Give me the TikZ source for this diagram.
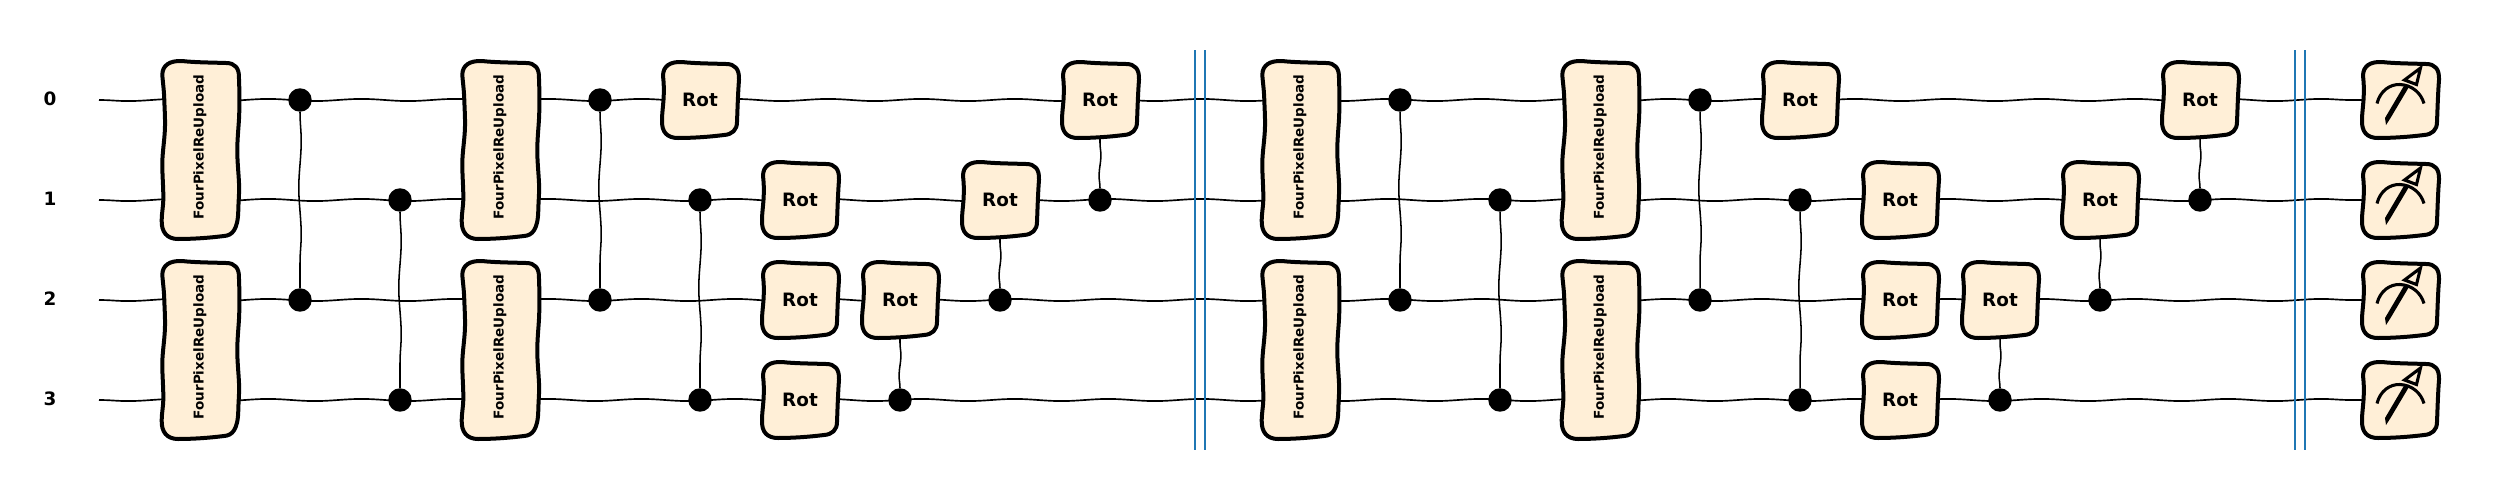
\documentclass[tikz,border=0pt]{standalone}
\usepackage{fontspec}
\setmainfont{DejaVu Sans}
\usetikzlibrary{backgrounds,decorations.pathmorphing}

\definecolor{gatefill}{RGB}{255,239,215}
\definecolor{barrierblue}{RGB}{31,119,180}

\tikzset{
  gateedge/.style={draw=black,fill=gatefill,line width=3pt,line join=round},
  gatetext/.style={inner sep=0pt,font=\fontsize{13.8pt}{16pt}\selectfont\bfseries},
  uploadtext/.style={inner sep=0pt,rotate=90,xshift=2.2pt,minimum width=132pt,minimum height=57pt,font=\fontsize{10.15pt}{12pt}\selectfont\bfseries},
  wirelabel/.style={inner sep=0pt,font=\fontsize{13.8pt}{16pt}\selectfont\bfseries},
  wire/.style={line width=1.25pt,decorate,decoration={snake,mirror,segment length=70pt,amplitude=0.8pt}},
  ctrlline/.style={line width=1.15pt,decorate,decoration={snake,segment length=70pt,amplitude=0.9pt}},
  ctrlshort/.style={line width=1.15pt,decorate,decoration={snake,segment length=30pt,amplitude=0.7pt}},
  ctrldot/.style={circle,fill=black,inner sep=0pt,minimum size=17.6pt},
  barrier/.style={draw=barrierblue,line width=1.5pt},
}

%gate outlines are centred on the given point
\newcommand{\rotgate}[3]{%
  \draw [gateedge,shift={(#2,#3)}] (-37,-24) .. controls (-36,-16) and (-36,-8) .. (-36.5,0) .. controls (-37,7) and (-38,14) .. (-38,20) .. controls (-38.5,32) and (-33,38) .. (-22,38) .. controls (-8,38) and (8,37) .. (24,35) .. controls (32,34.5) and (37,30) .. (37,22) .. controls (37.5,10) and (38,-8) .. (39,-20) .. controls (39.5,-31) and (35,-36) .. (26,-36) .. controls (12,-36.5) and (-5,-36.5) .. (-18,-38) .. controls (-30,-38.5) and (-37,-34) .. (-37,-24) -- cycle ;
  \node [gatetext,minimum width=57pt,minimum height=57pt] (#1) at (#2,#3) {Rot};
}
\newcommand{\uploadgate}[3]{%
  \draw [gateedge,shift={(#2,#3)}] (-37.7,-75) .. controls (-37,-66) and (-36,-60) .. (-35.7,-50) .. controls (-35.3,-38) and (-34.5,-28) .. (-35.3,-17) .. controls (-36,-6) and (-38,6) .. (-37.7,17) .. controls (-37.5,28) and (-36.5,40) .. (-36.7,50) .. controls (-37,58) and (-38.3,64) .. (-38.3,70) .. controls (-38.8,82) and (-33,89) .. (-22,89) .. controls (-8,89) and (8,88) .. (24,86) .. controls (32,85.5) and (38,80) .. (38.3,60) .. controls (38.5,50) and (39.5,42) .. (39,33) .. controls (38.5,22) and (37.3,12) .. (37.3,0) .. controls (37.3,-14) and (39.3,-28) .. (39.3,-40) .. controls (39.3,-52) and (39.5,-60) .. (39,-71) .. controls (39.5,-82) and (35,-87) .. (26,-87) .. controls (12,-87.5) and (-5,-87.5) .. (-18,-89) .. controls (-30,-89.5) and (-37.7,-85) .. (-37.7,-75) -- cycle ;
  \node [uploadtext] (#1) at (#2,#3) {FourPixelReUpload};
}
\newcommand{\metergate}[3]{%
  \draw [gateedge,shift={(#2,#3)}] (-37,-24) .. controls (-36,-16) and (-36,-8) .. (-36.5,0) .. controls (-37,7) and (-38,14) .. (-38,20) .. controls (-38.5,32) and (-33,38) .. (-22,38) .. controls (-8,38) and (8,37) .. (24,35) .. controls (32,34.5) and (37,30) .. (37,22) .. controls (37.5,10) and (38,-8) .. (39,-20) .. controls (39.5,-31) and (35,-36) .. (26,-36) .. controls (12,-36.5) and (-5,-36.5) .. (-18,-38) .. controls (-30,-38.5) and (-37,-34) .. (-37,-24) -- cycle ;
  \draw [line width=2.3pt,shift={(#2,#3)}] (-23,3.5) .. controls (-20,-9) and (-10,-16) .. (0,-15.5) .. controls (12,-15) and (21,-7) .. (24,3.5) ;
  \fill [shift={(#2,#3)}] (-15,18) -- (5,-16) -- (9.5,-14) -- (-9.5,18) -- (-14,25) -- cycle ;
  \draw [line width=2.3pt,line join=miter,fill=gatefill,shift={(#2,#3)}] (4.5,-20) -- (20.5,-32) -- (16.5,-15.5) -- cycle ;
  \node [inner sep=0pt,minimum width=57pt,minimum height=57pt] (#1) at (#2,#3) {};
}

\begin{document}
\begin{tikzpicture}[x=0.75pt,y=0.75pt,yscale=-1]
\useasboundingbox (0,0) rectangle (2500,500);

%Wire labels and free ends
\node [wirelabel] (lab0) at (50,99) {0};
\node [wirelabel] (lab1) at (50,199) {1};
\node [wirelabel] (lab2) at (50,299) {2};
\node [wirelabel] (lab3) at (50,399) {3};
\coordinate (start0) at (99,100);
\coordinate (start1) at (99,200);
\coordinate (start2) at (99,300);
\coordinate (start3) at (99,400);

%First block
\uploadgate{upA}{200}{150}
\uploadgate{upB}{200}{350}
\node [ctrldot] (dotA) at (300,100) {};
\node [ctrldot] (dotB) at (300,300) {};
\node [ctrldot] (dotC) at (400,200) {};
\node [ctrldot] (dotD) at (400,400) {};
\uploadgate{upC}{500}{150}
\uploadgate{upD}{500}{350}
\node [ctrldot] (dotE) at (600,100) {};
\node [ctrldot] (dotF) at (600,300) {};
\node [ctrldot] (dotG) at (700,200) {};
\node [ctrldot] (dotH) at (700,400) {};
\rotgate{rotA}{700}{100}
\rotgate{rotB}{800}{200}
\rotgate{rotC}{800}{300}
\rotgate{rotD}{800}{400}
\rotgate{rotE}{900}{300}
\node [ctrldot] (dotI) at (900,400) {};
\rotgate{rotF}{1000}{200}
\node [ctrldot] (dotJ) at (1000,300) {};
\rotgate{rotG}{1100}{100}
\node [ctrldot] (dotK) at (1100,200) {};

%Second block
\uploadgate{upE}{1300}{150}
\uploadgate{upF}{1300}{350}
\node [ctrldot] (dotL) at (1400,100) {};
\node [ctrldot] (dotM) at (1400,300) {};
\node [ctrldot] (dotN) at (1500,200) {};
\node [ctrldot] (dotO) at (1500,400) {};
\uploadgate{upG}{1600}{150}
\uploadgate{upH}{1600}{350}
\node [ctrldot] (dotP) at (1700,100) {};
\node [ctrldot] (dotQ) at (1700,300) {};
\node [ctrldot] (dotR) at (1800,200) {};
\node [ctrldot] (dotS) at (1800,400) {};
\rotgate{rotH}{1800}{100}
\rotgate{rotI}{1900}{200}
\rotgate{rotJ}{1900}{300}
\rotgate{rotK}{1900}{400}
\rotgate{rotL}{2000}{300}
\node [ctrldot] (dotT) at (2000,400) {};
\rotgate{rotM}{2100}{200}
\node [ctrldot] (dotU) at (2100,300) {};
\rotgate{rotN}{2200}{100}
\node [ctrldot] (dotV) at (2200,200) {};

%Measurements
\metergate{meas0}{2400}{100}
\metergate{meas1}{2400}{200}
\metergate{meas2}{2400}{300}
\metergate{meas3}{2400}{400}

%Straight Lines: wires sit behind the gates
\begin{scope}[on background layer]
\draw [wire] (start0) -- (meas0) ;
\draw [wire] (start1) -- (meas1) ;
\draw [wire] (start2) -- (meas2) ;
\draw [wire] (start3) -- (meas3) ;
\end{scope}

%Straight Lines: controls
\draw [ctrlline] (dotA) -- (dotB) ;
\draw [ctrlline] (dotC) -- (dotD) ;
\draw [ctrlline] (dotE) -- (dotF) ;
\draw [ctrlline] (dotG) -- (dotH) ;
\draw [ctrlshort] (dotI) -- (rotE) ;
\draw [ctrlshort] (dotJ) -- (rotF) ;
\draw [ctrlshort] (dotK) -- (rotG) ;
\draw [ctrlline] (dotL) -- (dotM) ;
\draw [ctrlline] (dotN) -- (dotO) ;
\draw [ctrlline] (dotP) -- (dotQ) ;
\draw [ctrlline] (dotR) -- (dotS) ;
\draw [ctrlshort] (dotT) -- (rotL) ;
\draw [ctrlshort] (dotU) -- (rotM) ;
\draw [ctrlshort] (dotV) -- (rotN) ;

%Barriers
\coordinate (barA1) at (1195,50);
\coordinate (barA2) at (1195,450);
\coordinate (barB1) at (1205,50);
\coordinate (barB2) at (1205,450);
\coordinate (barC1) at (2295,50);
\coordinate (barC2) at (2295,450);
\coordinate (barD1) at (2305,50);
\coordinate (barD2) at (2305,450);
\draw [barrier] (barA1) -- (barA2) ;
\draw [barrier] (barB1) -- (barB2) ;
\draw [barrier] (barC1) -- (barC2) ;
\draw [barrier] (barD1) -- (barD2) ;

\end{tikzpicture}
\end{document}
